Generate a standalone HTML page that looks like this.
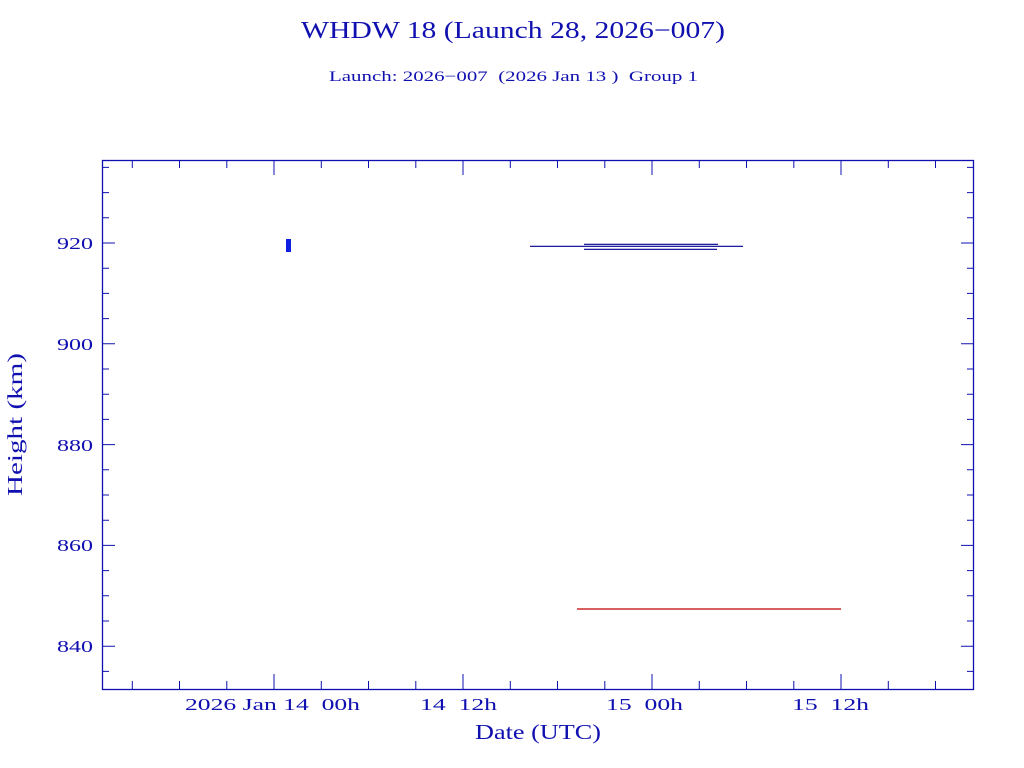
<!DOCTYPE html>
<html><head><meta charset="utf-8"><style>
html,body{margin:0;padding:0;background:#fff;}
svg{display:block;}
text{font-family:"Liberation Serif",serif;fill:#1010b0;white-space:pre;}
</style></head><body>
<svg width="1024" height="768" viewBox="0 0 1024 768" xmlns="http://www.w3.org/2000/svg" xml:space="preserve">
<text x="301" y="38" font-size="24" textLength="424" lengthAdjust="spacingAndGlyphs">WHDW 18 (Launch 28, 2026−007)</text>
<text x="329" y="81" font-size="15" textLength="369" lengthAdjust="spacingAndGlyphs">Launch: 2026−007  (2026 Jan 13 )  Group 1</text>
<rect x="102.5" y="160.5" width="871" height="529" fill="none" stroke="#1010b0" stroke-width="1.3"/>
<g stroke="#1010b0" stroke-width="1">
<path d="M102 243h13M102 343.8h13M102 444.6h13M102 545.4h13M102 646.2h13M974 243h-13M974 343.8h-13M974 444.6h-13M974 545.4h-13M974 646.2h-13"/>
<path d="M102 167.4h7M102 192.6h7M102 217.8h7M102 268.2h7M102 293.4h7M102 318.6h7M102 369h7M102 394.2h7M102 419.4h7M102 469.8h7M102 495h7M102 520.2h7M102 570.6h7M102 595.8h7M102 621h7M102 671.4h7
M974 167.4h-7M974 192.6h-7M974 217.8h-7M974 268.2h-7M974 293.4h-7M974 318.6h-7M974 369h-7M974 394.2h-7M974 419.4h-7M974 469.8h-7M974 495h-7M974 520.2h-7M974 570.6h-7M974 595.8h-7M974 621h-7M974 671.4h-7"/>
<path d="M274 689v-15M463 689v-15M652 689v-15M841 689v-15M274 160v15M463 160v15M652 160v15M841 160v15"/>
<path d="M132.3 689v-8M179.5 689v-8M226.8 689v-8M321.3 689v-8M368.5 689v-8M415.8 689v-8M510.3 689v-8M557.5 689v-8M604.8 689v-8M699.3 689v-8M746.5 689v-8M793.8 689v-8M888.3 689v-8M935.5 689v-8
M132.3 160v8M179.5 160v8M226.8 160v8M321.3 160v8M368.5 160v8M415.8 160v8M510.3 160v8M557.5 160v8M604.8 160v8M699.3 160v8M746.5 160v8M793.8 160v8M888.3 160v8M935.5 160v8"/>
</g>
<g font-size="17">
<text x="57" y="249" textLength="36" lengthAdjust="spacingAndGlyphs">920</text>
<text x="57" y="350" textLength="36" lengthAdjust="spacingAndGlyphs">900</text>
<text x="57" y="451" textLength="36" lengthAdjust="spacingAndGlyphs">880</text>
<text x="57" y="551" textLength="36" lengthAdjust="spacingAndGlyphs">860</text>
<text x="57" y="652" textLength="36" lengthAdjust="spacingAndGlyphs">840</text>
<text x="185" y="710" textLength="175" lengthAdjust="spacingAndGlyphs">2026 Jan 14  00h</text>
<text x="420" y="710" textLength="77" lengthAdjust="spacingAndGlyphs">14  12h</text>
<text x="606" y="710" textLength="77" lengthAdjust="spacingAndGlyphs">15  00h</text>
<text x="792" y="710" textLength="77" lengthAdjust="spacingAndGlyphs">15  12h</text>
</g>
<text x="475" y="739" font-size="21" textLength="126" lengthAdjust="spacingAndGlyphs">Date (UTC)</text>
<text transform="translate(22,496) rotate(-90)" font-size="21" textLength="143" lengthAdjust="spacingAndGlyphs">Height (km)</text>
<g stroke="#000090" stroke-width="1.2">
<path d="M584 244.3H718M530 246.3H743M584 249.3H717"/>
</g>
<rect x="286" y="239" width="5" height="13" fill="#1020e0"/>
<path d="M577 609H841" stroke="#c00000" stroke-width="1.2"/>
</svg>
</body></html>
